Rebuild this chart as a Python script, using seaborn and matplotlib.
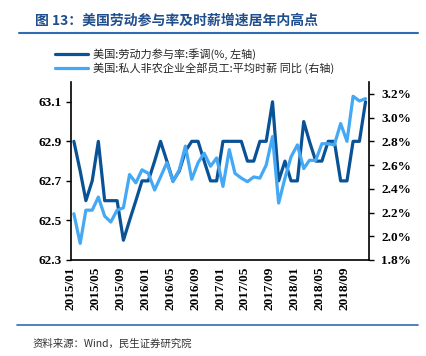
import numpy as np
import pandas as pd
import matplotlib
matplotlib.use("Agg")
import matplotlib.pyplot as plt
from matplotlib.lines import Line2D
from matplotlib.ticker import FuncFormatter
import seaborn as sns

# ---- data ----
months = pd.date_range("2015-01-01", periods=48, freq="MS") + pd.Timedelta(days=14)

# 美国:劳动力参与率:季调 (%), left axis
lfpr = [62.9, 62.75, 62.6, 62.7, 62.9, 62.6, 62.6, 62.6, 62.4, 62.5, 62.6, 62.7,
        62.7, 62.8, 62.9, 62.8, 62.7, 62.75, 62.85, 62.9, 62.9, 62.8, 62.7, 62.7,
        62.9, 62.9, 62.9, 62.9, 62.8, 62.8, 62.9, 62.9, 63.1, 62.7, 62.8, 62.7,
        62.7, 63.0, 62.9, 62.8, 62.8, 62.9, 62.9, 62.7, 62.7, 62.9, 62.9, 63.1]

# 美国:私人非农企业全部员工:平均时薪 同比 (%), right axis
wage = [2.19, 1.94, 2.22, 2.22, 2.33, 2.17, 2.12, 2.22, 2.24, 2.52, 2.45, 2.56,
        2.53, 2.39, 2.50, 2.62, 2.46, 2.56, 2.76, 2.48, 2.62, 2.70, 2.59, 2.66,
        2.42, 2.73, 2.53, 2.49, 2.46, 2.50, 2.49, 2.60, 2.84, 2.28, 2.49, 2.67,
        2.77, 2.57, 2.64, 2.64, 2.78, 2.78, 2.77, 2.95, 2.80, 3.18, 3.14, 3.16]

left_ticks = [62.3, 62.5, 62.7, 62.9, 63.1]
right_ticks = [1.8, 2.0, 2.2, 2.4, 2.6, 2.8, 3.0, 3.2]
x_ticks = pd.date_range("2015-01-01", "2019-01-01", freq="4MS")
x_labels = [d.strftime("%Y/%m") for d in x_ticks[:-1]] + [""]

title = "图 13：美国劳动参与率及时薪增速居年内高点"
name_lfpr = "美国:劳动力参与率:季调(%, 左轴)"
name_wage = "美国:私人非农企业全部员工:平均时薪 同比 (右轴)"
source = "资料来源：Wind，民生证券研究院"

df = pd.DataFrame({"month": months, "lfpr": lfpr, "wage": wage})

# ---- style ----
sns.set_style("white")
plt.rcParams["font.family"] = ["Noto Sans CJK SC", "DejaVu Sans"]
num_font = {"family": "Liberation Serif", "weight": "bold", "size": 9.5}

dark = "#0A5296"
light = "#44A8F5"

fig = plt.figure(figsize=(4.27, 3.56), dpi=100)
ax = fig.add_axes([71 / 427, 1 - 260 / 356, 298 / 427, 178 / 356])
ax2 = ax.twinx()

sns.lineplot(data=df, x="month", y="lfpr", ax=ax, color=dark, linewidth=2.3)
sns.lineplot(data=df, x="month", y="wage", ax=ax2, color=light, linewidth=2.3)

ax.set_xlim(pd.Timestamp("2015-01-01"), pd.Timestamp("2019-01-01"))
ax.set_ylim(62.3, 63.2)
ax2.set_ylim(1.8, 3.3)
ax.set_yticks(left_ticks)
ax.set_yticklabels([f"{v:.1f}" for v in left_ticks], fontdict=num_font)
ax2.set_yticks(right_ticks)
ax2.yaxis.set_major_formatter(FuncFormatter(lambda v, p: f"{v:.1f}%"))
for lab in ax2.get_yticklabels():
    lab.set_fontproperties(matplotlib.font_manager.FontProperties(**num_font))
ax.set_xticks(x_ticks)
ax.set_xticklabels(x_labels, rotation=90, fontdict=num_font)
ax.set_xlabel("")
ax.set_ylabel("")
ax2.set_ylabel("")

for a in (ax, ax2):
    a.spines["top"].set_visible(False)
    for s in ("left", "right", "bottom"):
        a.spines[s].set_color("black")
        a.spines[s].set_linewidth(1.2)
    a.grid(False)
ax.spines["right"].set_visible(False)
ax2.spines["left"].set_visible(False)
ax2.spines["bottom"].set_visible(False)

ax.tick_params(axis="y", direction="out", length=3.5, width=1, color="black", pad=3.5, labelcolor="black")
ax.tick_params(axis="x", direction="inout", length=5, width=1, color="black", pad=2, labelcolor="black")
ax2.tick_params(axis="y", direction="out", length=3.5, width=1, color="black", pad=5.5, labelcolor="black")
ax2.yaxis.set_tick_params(labelleft=False)

# legend
handles = [Line2D([0], [0], color=dark, lw=2.3), Line2D([0], [0], color=light, lw=2.3)]
fig.legend(handles, [name_lfpr, name_wage], loc="upper left",
           bbox_to_anchor=(55 / 427, 1 - 48 / 356), frameon=False, fontsize=8,
           handlelength=3.0, handletextpad=0.4, labelspacing=0.25,
           borderpad=0, borderaxespad=0)

# title, rules and source
fig.text(35 / 427, 1 - 21 / 356, title, fontsize=10, fontweight="bold",
         color="#1F4E8C", va="center", ha="left")
fig.add_artist(Line2D([19 / 427, 418 / 427], [1 - 33 / 356, 1 - 33 / 356],
                      color="#2E6DB0", lw=1.5))
fig.add_artist(Line2D([17 / 427, 418 / 427], [1 - 325 / 356, 1 - 325 / 356],
                      color="#2E6DB0", lw=1.2))
fig.text(33 / 427, 1 - 344 / 356, source, fontsize=7.5, color="#333333",
         va="center", ha="left")

fig.savefig("out.png", dpi=100)
